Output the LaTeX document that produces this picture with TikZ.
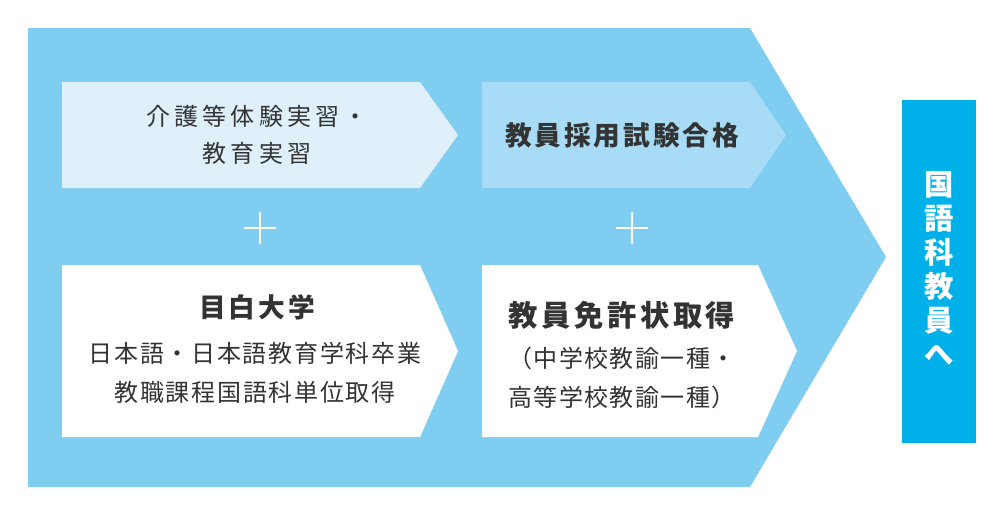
\documentclass[tikz,border=0pt]{standalone}
\usepackage{fontspec}
\setmainfont{Noto Sans CJK JP}
\begin{document}
\begin{tikzpicture}[x=0.75pt,y=-0.75pt,
  txt/.style={text=black!80,align=center},
  ttl/.style={text=black!80,align=center}]
\definecolor{big}{HTML}{7FCDF1}
\definecolor{pale}{HTML}{DFF0FB}
\definecolor{mid}{HTML}{A8DBF5}
\definecolor{dark}{HTML}{00B1E9}
\useasboundingbox (0,0) rectangle (1000,514);
\fill[big] (28,28) -- (750,28) -- (886,257) -- (750,487) -- (28,487) -- cycle;
\fill[pale] (62,82) -- (420,82) -- (458,135) -- (420,188) -- (62,188) -- cycle;
\fill[mid] (482,82) -- (750,82) -- (786,135) -- (750,188) -- (482,188) -- cycle;
\fill[white] (62,265) -- (420,265) -- (458,351) -- (420,437) -- (62,437) -- cycle;
\fill[white] (482,265) -- (758,265) -- (797,351) -- (758,437) -- (482,437) -- cycle;
\fill[dark] (902,100) rectangle (976,443);
\node[txt,font=\fontsize{18}{28}\selectfont\addfontfeatures{LetterSpace=17}] (a) at (257,135) {介護等体験実習・\\教育実習};
\node[ttl,font=\fontsize{20}{26}\selectfont\bfseries\addfontfeatures{LetterSpace=11}] (b) at (622,135) {教員採用試験合格};
\node[ttl,font=\fontsize{20}{26}\selectfont\bfseries\addfontfeatures{LetterSpace=11}] (c) at (257,307) {目白大学};
\node[txt,font=\fontsize{18}{29}\selectfont\addfontfeatures{LetterSpace=7}] (c2) at (255,373) {日本語・日本語教育学科卒業\\教職課程国語科単位取得};
\node[ttl,font=\fontsize{22}{26}\selectfont\bfseries\addfontfeatures{LetterSpace=12}] (d) at (622,315) {教員免許状取得};
\node[txt,font=\fontsize{18}{29}\selectfont\addfontfeatures{LetterSpace=6}] (d2) at (622,378) {（中学校教諭一種・\\高等学校教諭一種）};
\node[text=white,font=\fontsize{22}{25.5}\selectfont\bfseries,align=center] (e) at (939,268) {国\\語\\科\\教\\員\\へ};
\draw[white,line width=1.5pt] (244,228) -- (276,228) (260,212) -- (260,244);
\draw[white,line width=1.5pt] (616,228) -- (648,228) (632,212) -- (632,244);
\end{tikzpicture}
\end{document}
